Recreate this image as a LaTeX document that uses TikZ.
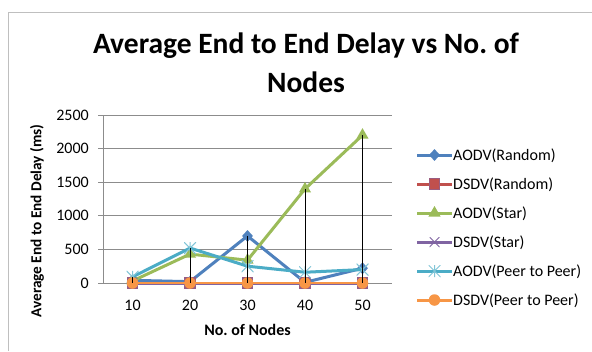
\documentclass[tikz,border=0pt]{standalone}
\usepackage{fontspec}
\setmainfont{Carlito}
\usetikzlibrary{shapes.geometric}
\definecolor{sblue}{HTML}{4F81BD}
\definecolor{sred}{HTML}{C0504D}
\definecolor{sgreen}{HTML}{9BBB59}
\definecolor{spurple}{HTML}{8064A2}
\definecolor{scyan}{HTML}{4BACC6}
\definecolor{sorange}{HTML}{F79646}
\definecolor{gridc}{HTML}{8C8C8C}
\definecolor{framec}{HTML}{BFBFBF}
\tikzset{
  gridline/.style={draw=gridc, line width=0.8},
  ticklbl/.style={font=\fontsize{16}{19}\selectfont, inner sep=0},
  axtitle/.style={font=\frenchspacing\bfseries\fontsize{16}{19}\selectfont, inner sep=0},
  titletxt/.style={font=\frenchspacing\bfseries\fontsize{29.5}{36}\selectfont, inner sep=0, anchor=base},
  legtxt/.style={font=\fontsize{16}{19}\selectfont, inner sep=0, anchor=base west},
  serline/.style={line width=3, line join=round},
  mkdiam/.style={diamond, fill=sblue, inner sep=0, minimum width=11, minimum height=12},
  mksq/.style={rectangle, fill=sred, draw=spurple!60!sred, line width=0.6, inner sep=0, minimum size=10.5},
  mktri/.style={regular polygon, regular polygon sides=3, fill=sgreen, inner sep=0, minimum size=14},
  mkcirc/.style={circle, fill=sorange, inner sep=0, minimum size=11.5},
  mkstar/.style={inner sep=0, minimum size=12, path picture={
      \draw[scyan!70!white, line width=1]
        (path picture bounding box.south west) -- (path picture bounding box.north east)
        (path picture bounding box.north west) -- (path picture bounding box.south east)
        (path picture bounding box.north) -- (path picture bounding box.south);}},
  mkcross/.style={inner sep=0, minimum size=10, path picture={
      \draw[spurple, line width=1]
        (path picture bounding box.south west) -- (path picture bounding box.north east)
        (path picture bounding box.north west) -- (path picture bounding box.south east);}},
  hilo/.style={draw=black, line width=0.9},
}
\begin{document}
\begin{tikzpicture}[x=1pt,y=-1pt]
\useasboundingbox (0,0) rectangle (592,351);
\fill[white] (0,0) rectangle (592,351);
\draw[framec, line width=0.8] (8,351) -- (8,12) -- (592,12);

% title
\node[titletxt] (title1) at (306,53) {Average End to End Delay vs No.\ of};
\node[titletxt] (title2) at (306,92) {Nodes};

% gridlines and axis
\foreach \k/\lab in {0/0,1/500,2/1000,3/1500,4/2000,5/2500} {
  \draw[gridline] (98,{283-33.6*\k}) -- (392,{283-33.6*\k});
  \node[ticklbl, anchor=east] (yt\k) at (89,{283-33.6*\k}) {\lab};
}
\draw[gridline] (103,115) -- (103,283);
\foreach \c [count=\i] in {10,20,30,40,50}
  \node[ticklbl] (xt\i) at ({132.5+57.5*(\i-1)},305) {\c};

\node[axtitle, anchor=base] (xlab) at (247.5,335) {No.\ of Nodes};
\node[axtitle, rotate=90, font=\bfseries\fontsize{15.3}{18}\selectfont] (ylab) at (37,221) {Average End to End Delay (ms)};

% data coordinates
\foreach \v [count=\i] in {40,20,700,10,220}
  \coordinate (AR\i) at ({132.5+57.5*(\i-1)},{283-0.0672*\v});
\foreach \v [count=\i] in {0,0,0,0,0}
  \coordinate (DR\i) at ({132.5+57.5*(\i-1)},{283-0.0672*\v});
\foreach \v [count=\i] in {30,430,340,1400,2200}
  \coordinate (AS\i) at ({132.5+57.5*(\i-1)},{283-0.0672*\v});
\foreach \v [count=\i] in {0,0,0,0,0}
  \coordinate (DS\i) at ({132.5+57.5*(\i-1)},{283-0.0672*\v});
\foreach \v [count=\i] in {90,520,250,160,200}
  \coordinate (AP\i) at ({132.5+57.5*(\i-1)},{283-0.0672*\v});
\foreach \v [count=\i] in {0,0,0,0,0}
  \coordinate (DP\i) at ({132.5+57.5*(\i-1)},{283-0.0672*\v});
\foreach \v [count=\i] in {90,520,700,1400,2200}
  \coordinate (HI\i) at ({132.5+57.5*(\i-1)},{283-0.0672*\v});

% series
\draw[serline, sblue] (AR1) -- (AR2) -- (AR3) -- (AR4) -- (AR5);
\foreach \i in {1,...,5} \node[mkdiam] (mAR\i) at (AR\i) {};
\draw[serline, sred] (DR1) -- (DR2) -- (DR3) -- (DR4) -- (DR5);
\foreach \i in {1,...,5} \node[mksq] (mDR\i) at (DR\i) {};
\draw[serline, sgreen] (AS1) -- (AS2) -- (AS3) -- (AS4) -- (AS5);
\foreach \i in {1,...,5} \node[mktri] (mAS\i) at (AS\i) {};
\draw[serline, spurple] (DS1) -- (DS2) -- (DS3) -- (DS4) -- (DS5);
\foreach \i in {1,...,5} \node[mkcross] (mDS\i) at (DS\i) {};
\draw[serline, scyan] (AP1) -- (AP2) -- (AP3) -- (AP4) -- (AP5);
\foreach \i in {1,...,5} \node[mkstar] (mAP\i) at (AP\i) {};
\draw[line width=2.2, line join=round, sorange] (DP1) -- (DP2) -- (DP3) -- (DP4) -- (DP5);
\foreach \i in {1,...,5} \node[mkcirc] (mDP\i) at (DP\i) {};

% high-low lines
\foreach \i in {1,...,5} \draw[hilo] (HI\i) -- (DP\i);

% legend
\foreach \nm/\col/\mk/\txt [count=\j] in {
  la/sblue/mkdiam/{AODV(Random)},
  lb/sred/mksq/{DSDV(Random)},
  lc/sgreen/mktri/{AODV(Star)},
  ld/spurple/mkcross/{DSDV(Star)},
  le/scyan/mkstar/{AODV(Peer to Peer)},
  lf/sorange/mkcirc/{DSDV(Peer to Peer)}} {
  \coordinate (\nm s) at (417,{155+29*(\j-1)});
  \coordinate (\nm e) at (452,{155+29*(\j-1)});
  \draw[serline, \col] (\nm s) -- (\nm e);
  \node[\mk] (\nm m) at (434.5,{155+29*(\j-1)}) {};
  \node[legtxt] (\nm t) at (453,{160+29*(\j-1)}) {\txt};
}
\end{tikzpicture}
\end{document}
